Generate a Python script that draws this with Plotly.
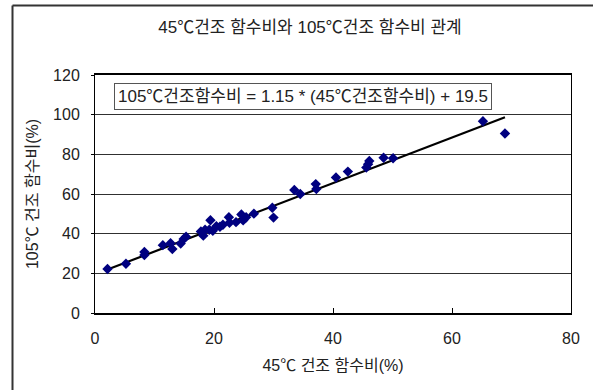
import plotly.graph_objects as go

# Data
x_45 = [2.1, 5.2, 8.3, 8.3, 11.4, 12.7, 13.0, 14.4, 14.9, 15.3, 17.8, 18.2, 18.5, 19.2,
        19.4, 19.8, 20.4, 21.0, 21.5, 22.5, 22.6, 23.7, 24.6, 24.9, 25.4, 26.7, 29.8,
        30.0, 33.5, 34.5, 37.1, 37.2, 40.5, 42.5, 45.6, 45.9, 46.1, 48.5, 50.1, 65.2, 68.9]
y_105 = [22.2, 24.8, 29.2, 30.8, 34.2, 35.2, 32.3, 35.0, 37.3, 38.5, 41.1, 39.0, 42.0, 42.0,
         46.8, 41.5, 43.8, 43.5, 44.5, 48.3, 45.5, 45.8, 49.7, 46.7, 48.3, 50.1, 53.1,
         48.1, 62.0, 60.0, 65.0, 62.5, 68.3, 71.3, 73.3, 75.0, 76.7, 78.3, 78.0, 96.7, 90.5]
slope = 1.15
intercept = 19.5
x_ticks = [0, 20, 40, 60, 80]
y_ticks = [0, 20, 40, 60, 80, 100, 120]

title_text = "45℃건조 함수비와 105℃건조 함수비 관계"
x_title = "45℃ 건조 함수비(%)"
y_title = "105℃ 건조 함수비(%)"
eq_text = "105℃건조함수비 = 1.15 * (45℃건조함수비) + 19.5"

FONT = "Liberation Sans, Noto Sans CJK KR, sans-serif"
TXT = "#222222"

line_x = [min(x_45), max(x_45)]
line_y = [slope * v + intercept for v in line_x]

fig = go.Figure()
fig.add_trace(go.Scatter(x=line_x, y=line_y, mode="lines",
                         line=dict(color="black", width=2.2), hoverinfo="skip"))
fig.add_trace(go.Scatter(x=x_45, y=y_105, mode="markers",
                         marker=dict(symbol="diamond", size=8, color="#000080",
                                     line=dict(width=0))))

fig.update_layout(
    width=593, height=390,
    margin=dict(l=95, r=22, t=75, b=77),
    paper_bgcolor="white", plot_bgcolor="white",
    showlegend=False,
    font=dict(family=FONT, size=16, color=TXT),
    title=dict(text=title_text, x=310/593, xanchor="center", y=1-27/390, yanchor="middle",
               font=dict(family=FONT, size=17, color=TXT)),
    xaxis=dict(range=[0, 80], tickvals=x_ticks, showgrid=False, zeroline=False,
               showline=True, linecolor="black", linewidth=2, mirror=True,
               ticks="inside", ticklen=5, tickcolor="black", ticklabelstandoff=10,
               title=dict(text=x_title, standoff=14, font=dict(size=16)),
               tickfont=dict(size=16, color=TXT)),
    yaxis=dict(range=[0, 120], tickvals=y_ticks, showgrid=True, gridcolor="#303030",
               gridwidth=1, zeroline=False, showline=True, linecolor="black",
               linewidth=1, mirror=True, ticks="outside", ticklen=3, tickcolor="black",
               ticklabelstandoff=8,
               title=dict(text=y_title, standoff=10, font=dict(size=16)),
               tickfont=dict(size=16, color=TXT)),
)

# Equation box
fig.add_annotation(xref="paper", yref="paper", x=(303-95)/476, y=(313-96)/238,
                   text=eq_text, showarrow=False, xanchor="center", yanchor="middle",
                   font=dict(family=FONT, size=17, color=TXT),
                   bordercolor="#555555", borderwidth=1, borderpad=3, bgcolor="white")

# Outer chart border (left and top edges only)
bx0 = (12.5 - 95) / 476
by1 = (313 - 5.5) / 238
fig.add_shape(type="line", xref="paper", yref="paper", x0=bx0, x1=bx0,
              y0=(313 - 400) / 238, y1=by1, line=dict(color="#333333", width=2))
fig.add_shape(type="line", xref="paper", yref="paper", x0=bx0, x1=(593 - 95) / 476,
              y0=by1, y1=by1, line=dict(color="#333333", width=2))

fig.write_html("out.html", config={"displayModeBar": False})
